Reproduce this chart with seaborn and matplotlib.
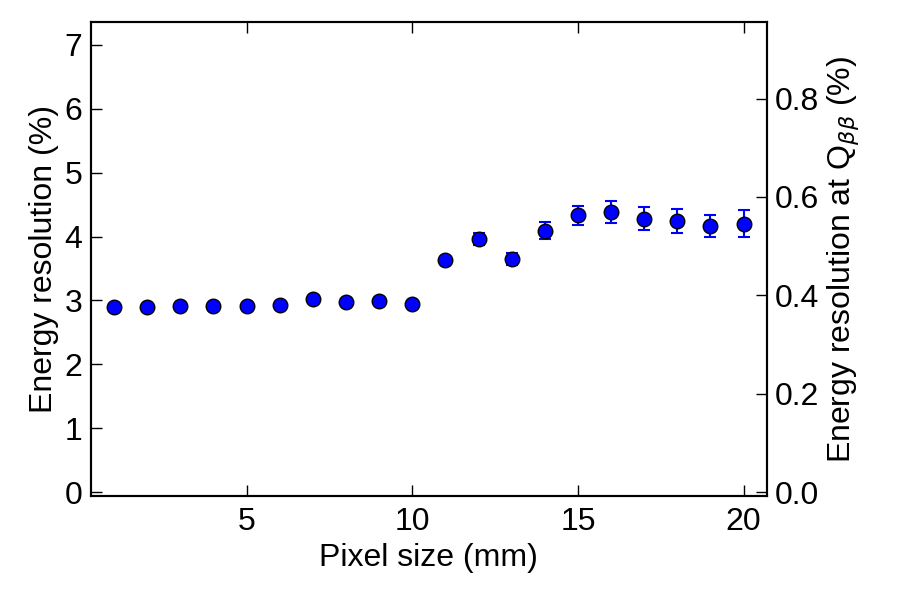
import numpy as np
import pandas as pd
import matplotlib
matplotlib.use("Agg")
import matplotlib.pyplot as plt
import seaborn as sns

# ==================== data ====================
pixel_size = [1, 2, 3, 4, 5, 6, 7, 8, 9, 10,
              11, 12, 13, 14, 15, 16, 17, 18, 19, 20]
resolution = [2.90, 2.90, 2.91, 2.91, 2.91, 2.93, 3.02, 2.98, 2.99, 2.945,
              3.63, 3.96, 3.65, 4.09, 4.33, 4.38, 4.28, 4.245, 4.16, 4.20]
res_error = [0.03, 0.03, 0.03, 0.03, 0.03, 0.03, 0.04, 0.04, 0.04, 0.04,
             0.05, 0.10, 0.09, 0.13, 0.15, 0.17, 0.18, 0.185, 0.17, 0.21]

# conversion factor to resolution at Q_bb (sqrt(E/Qbb))
qbb_factor = 0.1299

df = pd.DataFrame({"pixel": pixel_size, "res": resolution, "err": res_error})

# ==================== style ====================
sns.set_style("ticks")
plt.rcParams['font.family'] = ['Liberation Sans', 'DejaVu Sans']
plt.rcParams['mathtext.fontset'] = 'dejavusans'
plt.rcParams['axes.linewidth'] = 1.5
for key in ['text.color', 'axes.labelcolor', 'xtick.color', 'ytick.color', 'axes.edgecolor']:
    plt.rcParams[key] = 'black'

FS = 23

fig, ax = plt.subplots(figsize=(9, 6), dpi=100)
fig.subplots_adjust(left=0.101, right=0.852, bottom=0.173, top=0.963)

ax.errorbar(df["pixel"], df["res"], yerr=df["err"], fmt="none",
            ecolor="blue", elinewidth=1.5, capsize=4, capthick=1.5, zorder=2)
sns.scatterplot(data=df, x="pixel", y="res", ax=ax, color="blue",
                edgecolor="black", linewidth=1, s=110, zorder=3)

ax.set_xlim(0.3, 20.7)
ax.set_ylim(-0.065, 7.355)
ax.set_xticks([5, 10, 15, 20])
ax.set_yticks(range(0, 8))
ax.set_xlabel("Pixel size (mm)", fontsize=FS)
ax.set_ylabel("Energy resolution (%)", fontsize=FS)
ax.tick_params(axis="both", which="major", direction="in", length=8,
               width=1, labelsize=FS, top=True, right=False)
ax.tick_params(axis="x", pad=8)
ax.tick_params(axis="y", pad=6)

# right axis: resolution at Q_bb
ax2 = ax.twinx()
lo, hi = ax.get_ylim()
ax2.set_ylim(lo * qbb_factor, hi * qbb_factor)
ax2.set_yticks([0.0, 0.2, 0.4, 0.6, 0.8])
ax2.set_yticklabels(["0.0", "0.2", "0.4", "0.6", "0.8"])
ax2.tick_params(axis="y", direction="in", length=8, width=1,
                labelsize=FS, pad=6)
ax2.set_ylabel(r"Energy resolution at Q$_{\beta\beta}$ (%)", fontsize=FS)

fig.savefig("out.png", dpi=100)
